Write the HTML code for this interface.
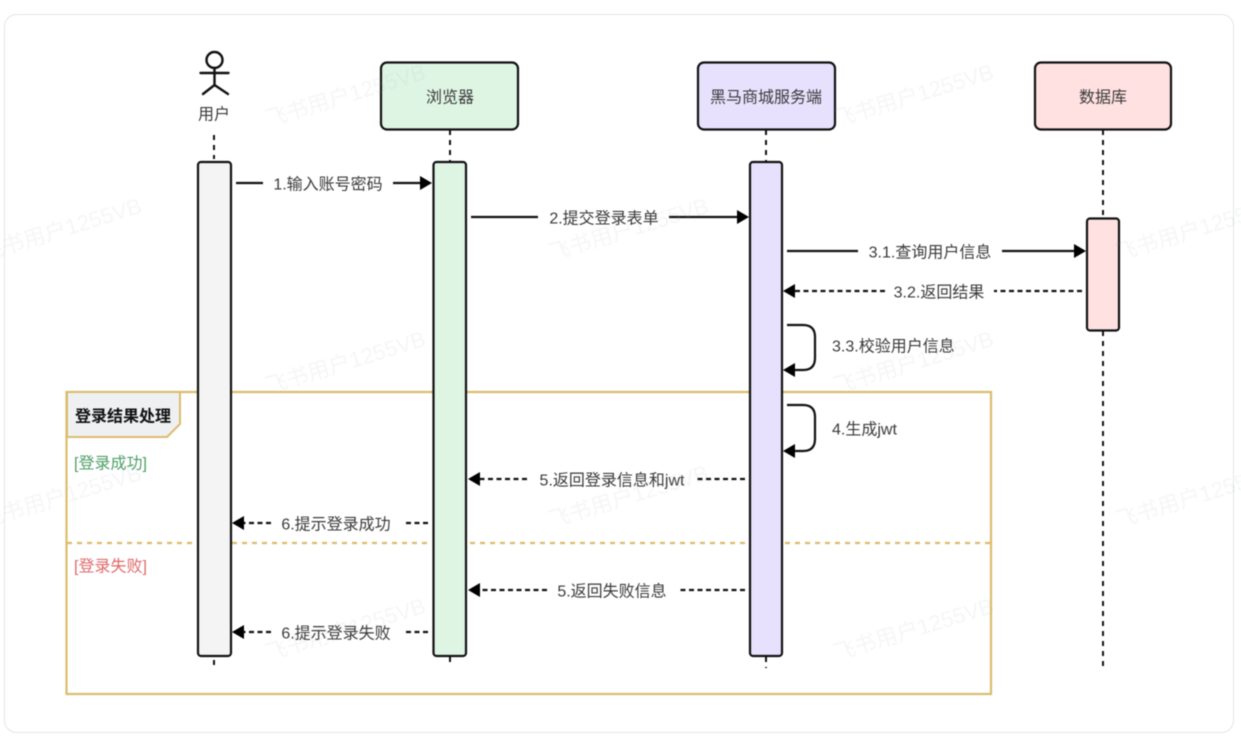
<!DOCTYPE html>
<html><head><meta charset="utf-8"><style>
html,body{margin:0;padding:0;background:#fff;width:1241px;height:746px;overflow:hidden}
svg{display:block;filter:blur(0.45px)}
text{font-family:"Liberation Sans","Noto Sans CJK SC",sans-serif;fill:#3a3a3a;font-size:16px}
.c{text-anchor:middle}
.wm text{font-size:22px;fill:#9aa3a8;fill-opacity:.1}
</style></head><body>
<svg width="1241" height="746" viewBox="0 0 1241 746" xmlns="http://www.w3.org/2000/svg">
<rect x="0" y="0" width="1241" height="746" fill="#fff"/>
<rect x="4.5" y="14.5" width="1229" height="718" rx="12" fill="#fff" stroke="#e4e5e7" stroke-width="1"/>

<!-- frame -->
<rect x="66.5" y="392" width="924.5" height="302" fill="none" stroke="#dcbc6c" stroke-width="2.2"/>
<path d="M67 392H180V424L167 437H67Z" fill="#eff0f2" stroke="#dcbc6c" stroke-width="2"/>
<text x="123" y="421.5" class="c" style="font-weight:700;fill:#111">登录结果处理</text>
<path d="M67 543H197M232 543H429M470 543H745M785 543H991" stroke="#dcbc6c" stroke-width="2.2" stroke-dasharray="5 5" fill="none"/>
<text x="74" y="468.5" style="fill:#4f9e68">[登录成功]</text>
<text x="74" y="571.5" style="fill:#de6a6a">[登录失败]</text>

<!-- lifelines -->
<g stroke="#111" stroke-width="2" stroke-dasharray="5 5" fill="none">
<path d="M214 135V159M214 660V665"/>
<path d="M450 130V161M450 657V666"/>
<path d="M766 130V161M766 657V668"/>
<path d="M1103 130V218M1103 331V667"/>
</g>

<!-- actor -->
<g stroke="#111" stroke-width="2.4" fill="none" stroke-linecap="round">
<ellipse cx="214.5" cy="60" rx="8" ry="8"/>
<path d="M214.5 68V85M200.5 73H228.5M203 94L214.5 85L228 94"/>
</g>

<!-- boxes -->
<g stroke="#111" stroke-width="2.2">
<rect x="381" y="62.5" width="137" height="67" rx="6" fill="#dff5e4"/>
<rect x="698" y="62.5" width="137" height="67" rx="6" fill="#e8e1fe"/>
<rect x="1035" y="62.5" width="136" height="67" rx="6" fill="#ffe1e1"/>
<rect x="198" y="162" width="33" height="494" rx="3" fill="#f4f4f4"/>
<rect x="433.5" y="162" width="32.5" height="494" rx="3" fill="#dff5e4"/>
<rect x="750" y="162" width="32" height="494" rx="3" fill="#e8e1fe"/>
<rect x="1087" y="218.5" width="32" height="112" rx="3" fill="#ffe1e1"/>
</g>
<text x="450" y="102.5" class="c">浏览器</text>
<text x="766" y="102.5" class="c">黑马商城服务端</text>
<text x="1103" y="102.5" class="c">数据库</text>
<text x="214" y="119.5" class="c">用户</text>

<!-- solid messages -->
<g stroke="#111" stroke-width="2.2" fill="none">
<path d="M236 183H263M393 183H422"/>
<path d="M471 217H538M669 217H739"/>
<path d="M787 251H858M1002 251H1076"/>
<path d="M787 325H803Q815 325 815 337V358Q815 370 803 370H793"/>
<path d="M787 405H803Q815 405 815 417V439Q815 451 803 451H793"/>
</g>
<!-- dashed messages -->
<g stroke="#111" stroke-width="2.2" fill="none" stroke-dasharray="5 3.5">
<path d="M1082 291H994M885 291H795"/>
<path d="M745 479H696M527 479H479"/>
<path d="M428 523H405M271 523H243"/>
<path d="M745 590H677M547 590H479"/>
<path d="M428 632H405M271 632H243"/>
</g>
<!-- arrowheads -->
<g fill="#000">
<path d="M432 183L420 176V190Z"/>
<path d="M749 217L737 210V224Z"/>
<path d="M1086 251L1074 244V258Z"/>
<path d="M783 291L795 284V298Z"/>
<path d="M783 370L795 363V377Z"/>
<path d="M783 451L795 444V458Z"/>
<path d="M468 479L480 472V486Z"/>
<path d="M232 523L244 516V530Z"/>
<path d="M468 590L480 583V597Z"/>
<path d="M232 632L244 625V639Z"/>
</g>

<!-- labels -->
<text x="328" y="189.5" class="c">1.输入账号密码</text>
<text x="604" y="223.5" class="c">2.提交登录表单</text>
<text x="930" y="257.5" class="c">3.1.查询用户信息</text>
<text x="939" y="297.5" class="c">3.2.返回结果</text>
<text x="832" y="351.5">3.3.校验用户信息</text>
<text x="832" y="434.5">4.生成jwt</text>
<text x="612" y="485.5" class="c">5.返回登录信息和jwt</text>
<text x="336" y="529.5" class="c">6.提示登录成功</text>
<text x="612" y="596.5" class="c">5.返回失败信息</text>
<text x="336" y="638.5" class="c">6.提示登录失败</text>

<!-- watermarks -->
<g class="wm">
<text transform="translate(268 127) rotate(-17)">飞书用户1255VB</text>
<text transform="translate(836 127) rotate(-17)">飞书用户1255VB</text>
<text transform="translate(-16 261) rotate(-17)">飞书用户1255VB</text>
<text transform="translate(551 261) rotate(-17)">飞书用户1255VB</text>
<text transform="translate(1118 261) rotate(-17)">飞书用户1255VB</text>
<text transform="translate(268 394) rotate(-17)">飞书用户1255VB</text>
<text transform="translate(836 394) rotate(-17)">飞书用户1255VB</text>
<text transform="translate(-16 528) rotate(-17)">飞书用户1255VB</text>
<text transform="translate(551 528) rotate(-17)">飞书用户1255VB</text>
<text transform="translate(1118 528) rotate(-17)">飞书用户1255VB</text>
<text transform="translate(268 661) rotate(-17)">飞书用户1255VB</text>
<text transform="translate(836 661) rotate(-17)">飞书用户1255VB</text>
</g>
</svg>
</body></html>
